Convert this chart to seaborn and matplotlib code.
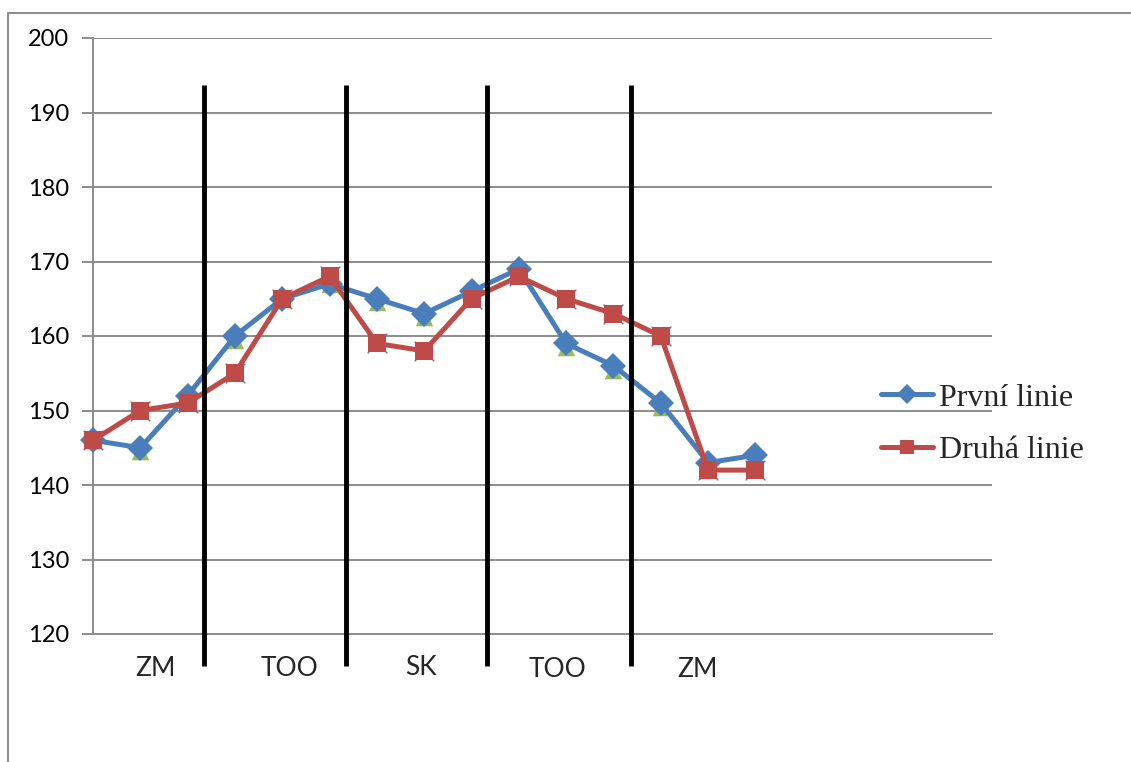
import matplotlib
matplotlib.use("Agg")
import matplotlib.pyplot as plt
from matplotlib.patches import Rectangle
from matplotlib.lines import Line2D
import numpy as np
import pandas as pd
import seaborn as sns

# Measurements across the season (15 sampling points)
points = list(range(15))
prvni = [146, 145, 152, 160, 165, 167, 165, 163, 166, 169, 159, 156, 151, 143, 144]
druha = [146, 150, 151, 155, 165, 168, 159, 158, 165, 168, 165, 163, 160, 142, 142]
# helper series without a connecting line
pomocna_a = [146, 144.5, 151.5, 159.5, 165, 167, 164.5, 162.5, 165.5, 168.5, 158.5, 155.5, 150.5, 142, 142.5]
pomocna_b = [146, 150, 151, 155, 165, 168, 159, 158, 165, 168, 165, 163, 160, 142, 142]

series_names = ["První linie", "Druhá linie"]
period_labels = ["ZM", "TOO", "SK", "TOO", "ZM"]
y_ticks = [120, 130, 140, 150, 160, 170, 180, 190, 200]

BLUE = "#4A7EBB"
RED = "#BE4B48"
GREEN = "#9BBB59"
PURPLE = "#8064A2"
GRID = "#8C8C8C"

sns.set_style("white")
plt.rcParams["font.family"] = ["Lato", "DejaVu Sans"]

fig = plt.figure(figsize=(11.31, 7.62), dpi=100)
ax = fig.add_axes([93 / 1131, 1 - 634 / 762, (992 - 93) / 1131, (634 - 38) / 762])

df = pd.DataFrame({"bod": points, "prvni": prvni, "druha": druha,
                   "a": pomocna_a, "b": pomocna_b})

sns.lineplot(data=df, x="bod", y="prvni", ax=ax, color=BLUE, lw=3.6,
             marker="D", markersize=13, markeredgewidth=0, zorder=4, clip_on=False)
sns.scatterplot(data=df, x="bod", y="a", ax=ax, color=GREEN, marker="^",
                s=160, linewidth=0, zorder=3, clip_on=False)
sns.scatterplot(data=df, x="bod", y="b", ax=ax, color=PURPLE, marker="x",
                s=200, linewidth=1.0, zorder=3, clip_on=False)
sns.lineplot(data=df, x="bod", y="druha", ax=ax, color=RED, lw=3.6,
             marker="s", markersize=12.5, markeredgewidth=0, zorder=5, clip_on=False)

ax.set_xlim(0, 19)
ax.set_ylim(120, 200)
ax.set_yticks(y_ticks)
ax.set_xticks([])
ax.set_xlabel("")
ax.set_ylabel("")
ax.yaxis.grid(True, color=GRID, lw=1.4)
ax.set_axisbelow(True)
for side in ["top", "right"]:
    ax.spines[side].set_visible(False)
ax.spines["left"].set_color(GRID)
ax.spines["left"].set_linewidth(1.4)
ax.spines["bottom"].set_color(GRID)
ax.spines["bottom"].set_linewidth(1.4)
ax.tick_params(axis="y", length=8, width=1.4, color=GRID, labelsize=17,
               pad=9, left=True, labelcolor="black")

# period dividers reaching below the axis
for xd in [2.35, 5.35, 8.33, 11.37]:
    ax.plot([xd, xd], [193.7, 115.7], color="black", lw=3.5, clip_on=False,
            zorder=6, solid_capstyle="butt")

label_x = [1.31, 4.16, 6.93, 9.81, 12.77]
label_y = [115.4, 115.4, 115.5, 115.2, 115.2]
for lx, ly, txt in zip(label_x, label_y, period_labels):
    ax.text(lx, ly, txt, ha="center", va="center", fontsize=19, clip_on=False)

handles = [
    Line2D([], [], color=BLUE, lw=3.6, marker="D", markersize=10, markeredgewidth=0),
    Line2D([], [], color=RED, lw=3.6, marker="s", markersize=10, markeredgewidth=0),
]
fig.legend(handles, series_names, loc="center left",
           bbox_to_anchor=(852 / 1131, 1 - 424 / 762), frameon=False,
           prop={"family": ["Liberation Serif"], "size": 23},
           handlelength=1.63, handletextpad=0.19, labelspacing=0.72)

# outer chart border
fig.patches.append(Rectangle((8 / 1131, -0.01), 1.2, 1 - 13 / 762 + 0.01,
                             transform=fig.transFigure, fill=False,
                             edgecolor=GRID, lw=1.4))

fig.savefig("out.png", dpi=100)
